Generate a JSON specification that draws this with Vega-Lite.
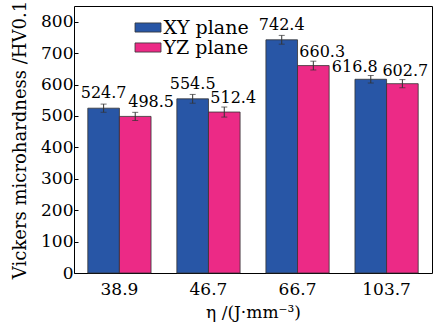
{
  "$schema": "https://vega.github.io/schema/vega-lite/v6.json",
  "width": 358,
  "height": 267,
  "autosize": {"type": "none"},
  "padding": {"left": 74, "top": 6, "right": 3, "bottom": 50},
  "config": {
    "font": "DejaVu Serif",
    "view": {"stroke": "#000", "strokeWidth": 1},
    "axis": {"grid": false, "labelColor": "#000", "titleColor": "#000", "labelFont": "DejaVu Serif", "titleFont": "DejaVu Serif", "titleFontWeight": "normal"}
  },
  "data": {
    "values": [
      {"eta": "38.9", "plane": "XY plane", "value": 524.7, "err": 13},
      {"eta": "38.9", "plane": "YZ plane", "value": 498.5, "err": 13},
      {"eta": "46.7", "plane": "XY plane", "value": 554.5, "err": 14},
      {"eta": "46.7", "plane": "YZ plane", "value": 512.4, "err": 16},
      {"eta": "66.7", "plane": "XY plane", "value": 742.4, "err": 14},
      {"eta": "66.7", "plane": "YZ plane", "value": 660.3, "err": 14},
      {"eta": "103.7", "plane": "XY plane", "value": 616.8, "err": 12},
      {"eta": "103.7", "plane": "YZ plane", "value": 602.7, "err": 13}
    ]
  },
  "encoding": {
    "x": {
      "field": "eta", "type": "nominal", "sort": ["38.9", "46.7", "66.7", "103.7"],
      "scale": {"paddingInner": 0.29, "paddingOuter": 0.155},
      "axis": {"title": "η /(J·mm⁻³)", "labelAngle": 0, "labelFontSize": 17, "titleFontSize": 17, "ticks": false, "domain": false, "labelPadding": 8, "titlePadding": 7}
    },
    "xOffset": {"field": "plane", "type": "nominal", "scale": {"paddingInner": 0, "paddingOuter": 0}},
    "y": {
      "field": "value", "type": "quantitative",
      "scale": {"domain": [0, 850], "nice": false},
      "axis": {"title": "Vickers microhardness /HV0.1", "values": [0, 100, 200, 300, 400, 500, 600, 700, 800], "labelOverlap": false, "labelFontSize": 17, "titleFontSize": 18, "tickSize": -4, "domain": false, "labelPadding": 5, "titlePadding": 11, "tickColor": "#000"}
    }
  },
  "layer": [
    {
      "mark": {"type": "bar", "stroke": "#333", "strokeWidth": 0.8},
      "encoding": {
        "color": {
          "field": "plane", "type": "nominal",
          "scale": {"domain": ["XY plane", "YZ plane"], "range": ["#2856a6", "#ec2a86"]},
          "legend": {
            "title": null, "orient": "none", "legendX": 64.5, "legendY": 12,
            "symbolType": "M-2,-0.7H2V0.7H-2Z", "symbolSize": 169, "symbolStrokeColor": "#333", "symbolStrokeWidth": 0.8,
            "symbolOpacity": 1, "labelFontSize": 19, "labelFont": "DejaVu Serif", "labelColor": "#000",
            "labelOffset": 6, "rowPadding": 0, "padding": 0
          }
        }
      }
    },
    {
      "mark": {"type": "errorbar", "ticks": {"size": 6, "color": "#333"}, "rule": {"color": "#333"}},
      "encoding": {
        "yError": {"field": "err"}
      }
    },
    {
      "transform": [{"filter": "datum.plane === 'XY plane' && datum.eta !== '103.7'"}],
      "mark": {"type": "text", "baseline": "alphabetic", "align": "center", "dy": -10, "fontSize": 16, "font": "DejaVu Serif"},
      "encoding": {
        "text": {"field": "value", "type": "quantitative", "format": ".1f"}
      }
    },
    {
      "transform": [{"filter": "datum.plane === 'XY plane' && datum.eta === '103.7'"}],
      "mark": {"type": "text", "baseline": "alphabetic", "align": "center", "dx": -16, "dy": -7, "fontSize": 16, "font": "DejaVu Serif"},
      "encoding": {
        "text": {"field": "value", "type": "quantitative", "format": ".1f"}
      }
    },
    {
      "transform": [{"filter": "datum.plane === 'YZ plane' && (datum.eta === '46.7' || datum.eta === '66.7')"}],
      "mark": {"type": "text", "baseline": "alphabetic", "align": "left", "dx": -14, "dy": -9, "fontSize": 16, "font": "DejaVu Serif"},
      "encoding": {
        "text": {"field": "value", "type": "quantitative", "format": ".1f"}
      }
    },
    {
      "transform": [{"filter": "datum.plane === 'YZ plane' && datum.eta === '38.9'"}],
      "mark": {"type": "text", "baseline": "alphabetic", "align": "left", "dx": -7, "dy": -9, "fontSize": 16, "font": "DejaVu Serif"},
      "encoding": {
        "text": {"field": "value", "type": "quantitative", "format": ".1f"}
      }
    },
    {
      "transform": [{"filter": "datum.plane === 'YZ plane' && datum.eta === '103.7'"}],
      "mark": {"type": "text", "baseline": "alphabetic", "align": "left", "dx": -20, "dy": -8, "fontSize": 16, "font": "DejaVu Serif"},
      "encoding": {
        "text": {"field": "value", "type": "quantitative", "format": ".1f"}
      }
    }
  ]
}
